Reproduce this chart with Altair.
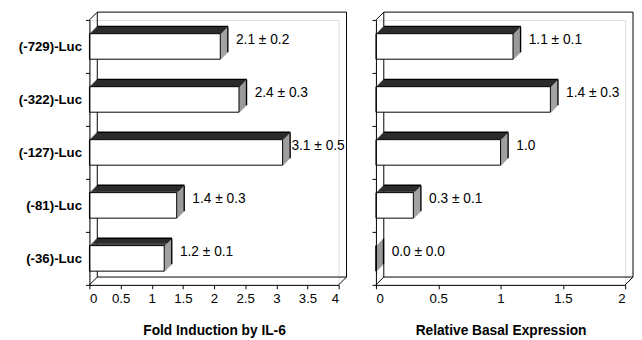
import altair as alt
import pandas as pd

constructs = ["(-729)-Luc", "(-322)-Luc", "(-127)-Luc", "(-81)-Luc", "(-36)-Luc"]
fold_mean = [2.1, 2.4, 3.1, 1.4, 1.2]
fold_sd = [0.2, 0.3, 0.5, 0.3, 0.1]
basal_mean = [1.1, 1.4, 1.0, 0.3, 0.0]
basal_sd = [0.1, 0.3, None, 0.1, 0.0]
fold_ticks = [0, 0.5, 1, 1.5, 2, 2.5, 3, 3.5, 4]
basal_ticks = [0, 0.5, 1, 1.5, 2]

W, H, D, BH = 254, 270, 8, 26
FONT = "Liberation Sans"
TOP, SIDE = "#2b2b2b", "#9a9a9a"
LABEL_W = 60


def fmt(m, s):
    return f"{m:.1f}" if s is None else f"{m:.1f} \u00b1 {s:.1f}"


def panel(means, sds, ticks, title, show_labels):
    xmax = ticks[-1]
    df = pd.DataFrame({
        "c": constructs,
        "v": means,
        "z": [0.0] * len(means),
        "lab": [fmt(m, s) for m, s in zip(means, sds)],
    })
    df["tight"] = [m / xmax * W + 2 * D + LABEL_W > W + D for m in means]
    one = pd.DataFrame({"a": [0]})

    xs = alt.Scale(domain=[0, xmax], nice=False, zero=True)
    ys = alt.Scale(domain=constructs, paddingInner=0, paddingOuter=0)
    x_ax = alt.X("v:Q", scale=xs, axis=alt.Axis(
        values=ticks, format="~g", title=title, grid=False, tickSize=4,
        labelPadding=3, titlePadding=19, domainColor="black", tickColor="black",
        labelColor="black", titleColor="black", labelFont=FONT, labelFontSize=13.5,
        titleFont=FONT, titleFontSize=14, titleFontWeight="bold", zindex=1))
    y_ax = alt.Y("c:N", scale=ys, sort=constructs, axis=alt.Axis(
        title=None, grid=False, tickBand="extent", tickSize=4, labels=show_labels,
        labelPadding=4, domainColor="black", tickColor="black", labelColor="black",
        labelFont=FONT, labelFontSize=13.5, labelFontWeight="bold", zindex=1))

    layers = []
    # back wall
    layers.append(alt.Chart(one).mark_rect(
        fill="transparent", stroke="black", strokeWidth=1,
        xOffset=D, x2Offset=D, yOffset=-D, y2Offset=-D).encode(
        x=alt.value(0), x2=alt.value(W), y=alt.value(0), y2=alt.value(H)))
    # depth diagonals
    for (px, py) in [(0, 0), (0, H), (W, H)]:
        layers.append(alt.Chart(one).mark_rule(color="black", strokeWidth=1).encode(
            x=alt.value(px), x2=alt.value(px + D), y=alt.value(py), y2=alt.value(py - D)))
    base = alt.Chart(df)
    # side faces
    for k in range(D):
        layers.append(base.mark_bar(
            color="black" if k == D - 1 else SIDE, size=BH,
            xOffset=k, x2Offset=k + 1.4, yOffset=-k).encode(
            x=x_ax, x2="v:Q", y=y_ax))
    # top faces
    for k in range(1, D + 1):
        layers.append(base.mark_bar(
            color="black" if k == D else TOP, size=1.4,
            xOffset=k, x2Offset=k, yOffset=-BH / 2 - k + 0.5).encode(
            x=x_ax, x2="z:Q", y=y_ax))
    # front faces
    layers.append(base.mark_bar(
        fill="white", stroke="black", strokeWidth=1, size=BH).encode(
        x=x_ax, x2="z:Q", y=y_ax))
    # value labels
    layers.append(base.transform_filter("!datum.tight").mark_text(
        align="left", baseline="middle", dx=2 * D, dy=-6, font=FONT, fontSize=14,
        color="black").encode(x=x_ax, y=y_ax, text="lab:N"))
    layers.append(base.transform_filter("datum.tight").mark_text(
        align="left", baseline="middle", dx=D + 1, dy=-6, font=FONT, fontSize=14,
        color="black").encode(x=x_ax, y=y_ax, text="lab:N"))
    return alt.layer(*layers).properties(width=W, height=H)


left = panel(fold_mean, fold_sd, fold_ticks, "Fold Induction by IL-6", True)
right = panel(basal_mean, basal_sd, basal_ticks, "Relative Basal Expression", False)

chart = alt.hconcat(left, right, spacing=24).properties(
    padding={"left": 9, "top": 0, "right": 0, "bottom": 0}
).configure_view(stroke=None).configure(background="white")

chart.save("out.html", embed_options={"renderer": "svg", "actions": False})
